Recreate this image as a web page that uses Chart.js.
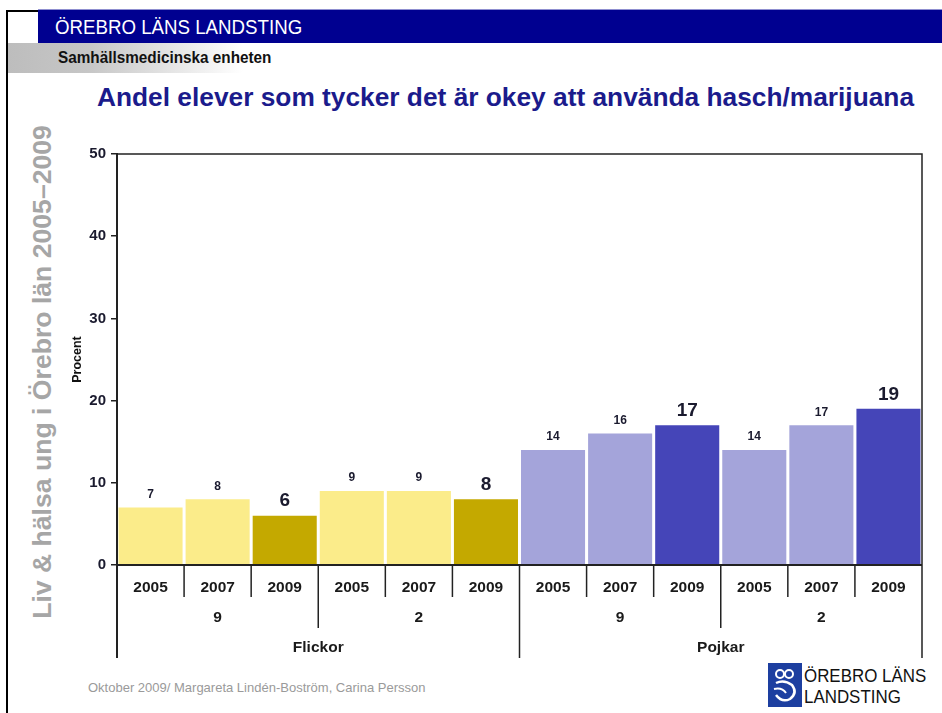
<!DOCTYPE html>
<html>
<head>
<meta charset="utf-8">
<script src="https://cdn.jsdelivr.net/npm/chart.js@4.4.0/dist/chart.umd.min.js"></script>
<style>
	html, body { margin: 0; padding: 0; background: #ffffff; }
	#page { position: relative; width: 942px; height: 713px; overflow: hidden; font-family: "Liberation Sans", Arial, sans-serif; }
	#frame-top { position: absolute; left: 6px; top: 10px; width: 40px; height: 2px; background: #000; }
	#frame-left { position: absolute; left: 6px; top: 10px; width: 2px; height: 703px; background: #000; }
	#topbar { position: absolute; left: 38px; top: 9px; width: 904px; height: 33px; background: #000090; border-top: 1px solid #8f8fd0; }
	#topbar span { position: absolute; left: 17px; top: 5px; color: #fff; font-size: 21px; transform: scaleX(0.89); transform-origin: left center; white-space: nowrap; }
	#subbar { position: absolute; left: 8px; top: 43px; width: 400px; height: 30px; background: linear-gradient(to right, #bdbdbd 0px, #c6c6c6 80px, #ffffff 235px); }
	#subbar span { position: absolute; left: 50px; top: 5px; color: #111; font-weight: bold; font-size: 17px; transform: scaleX(0.9); transform-origin: left center; white-space: nowrap; }
	#title { position: absolute; left: 97px; top: 82px; color: #1b1b8c; font-weight: bold; font-size: 26.3px; white-space: nowrap; }
	#side { position: absolute; left: 42px; top: 372px; transform: translate(-50%, -50%) rotate(-90deg); color: #a6a6a6; font-weight: bold; font-size: 26.6px; white-space: nowrap; }
	#footer { position: absolute; left: 88px; top: 680px; color: #9a9a9a; font-size: 13px; white-space: nowrap; }
	#logo { position: absolute; left: 768px; top: 663px; width: 34px; height: 44px; }
	#logotext { position: absolute; left: 804px; top: 665px; color: #111; font-size: 19px; line-height: 21px; transform: scaleX(0.89); transform-origin: left top; white-space: nowrap; }
	#chart { position: absolute; left: 0; top: 0; }
</style>
</head>
<body>
<div id="page">
	<div id="frame-top"></div>
	<div id="frame-left"></div>
	<div id="topbar"><span>ÖREBRO LÄNS LANDSTING</span></div>
	<div id="subbar"><span>Samhällsmedicinska enheten</span></div>
	<div id="title">Andel elever som tycker det är okey att använda hasch/marijuana</div>
	<div id="side">Liv &amp; hälsa ung i Örebro län 2005–2009</div>
	<div id="footer">Oktober 2009/ Margareta Lindén-Boström, Carina Persson</div>
	<svg id="logo" viewBox="0 0 34 44">
		<rect x="0" y="0" width="34" height="44" fill="#1d3fa0"/>
		<circle cx="12" cy="11" r="4" fill="none" stroke="#fff" stroke-width="2"/>
		<circle cx="21" cy="11" r="4" fill="none" stroke="#fff" stroke-width="2"/>
		<path d="M8 20 Q16 16 24 22 Q30 30 22 36 Q14 40 8 32" fill="none" stroke="#fff" stroke-width="2.5"/>
		<path d="M6 26 Q14 24 18 30" fill="none" stroke="#fff" stroke-width="2"/>
	</svg>
	<div id="logotext">ÖREBRO LÄNS<br>LANDSTING</div>
	<canvas id="chart" width="942" height="713"></canvas>
</div>
<script>
/* data */

var years = ['2005', '2007', '2009', '2005', '2007', '2009', '2005', '2007', '2009', '2005', '2007', '2009'];
var ageGroups = ['9', '2', '9', '2'];
var genders = ['Flickor', 'Pojkar'];
var values = [7, 8, 6, 9, 9, 8, 14, 16, 17, 14, 17, 19];
var yTicks = [0, 10, 20, 30, 40, 50];

/* colors */

var getColor = function(index) {
	var girl = index < 6;
	var latest = years[index] == '2009';
	if (girl) {
		return latest ? '#c4a900' : '#fbec8a';
	} else {
		return latest ? '#4545b8' : '#a4a4da';
	}
};

var barColors = [];
for (var i = 0; i < values.length; i++) {
	barColors.push(getColor(i));
}

/* plugin: frame, labels, category rows */

var lineColor = '#222222';
var fontFamily = '"Liberation Sans", Arial, sans-serif';

var categoryPlugin = {
	id: 'categories',
	afterDatasetsDraw: function(chart) {
		var ctx = chart.ctx;
		var area = chart.chartArea;
		var x = chart.scales.x;
		var meta = chart.getDatasetMeta(0);
		var bottom = area.bottom;

		ctx.save();

		// value labels
		ctx.fillStyle = '#1a1a2e';
		ctx.textAlign = 'center';
		ctx.textBaseline = 'bottom';
		for (var i = 0; i < meta.data.length; i++) {
			var bar = meta.data[i];
			if (years[i] == '2009') {
				ctx.font = 'bold 19px ' + fontFamily;
				ctx.fillText(values[i], bar.x, bar.y - 5);
			} else {
				ctx.font = 'bold 12px ' + fontFamily;
				ctx.fillText(values[i], bar.x, bar.y - 7);
			}
		}

		// frame: top and right
		ctx.strokeStyle = lineColor;
		ctx.lineWidth = 1.5;
		ctx.beginPath();
		ctx.moveTo(area.left, area.top);
		ctx.lineTo(area.right, area.top);
		ctx.lineTo(area.right, bottom + 93);
		ctx.stroke();

		// baseline and left extension
		ctx.lineWidth = 2;
		ctx.beginPath();
		ctx.moveTo(area.left, bottom);
		ctx.lineTo(area.right, bottom);
		ctx.moveTo(area.left, bottom);
		ctx.lineTo(area.left, bottom + 93);
		ctx.stroke();

		// separators between categories
		ctx.lineWidth = 1.5;
		for (var i = 1; i < years.length; i++) {
			var sx = (x.getPixelForValue(i - 1) + x.getPixelForValue(i)) / 2;
			var depth = 32;
			if (i % 3 == 0) {
				depth = 63;
			}
			if (i % 6 == 0) {
				depth = 93;
			}
			ctx.beginPath();
			ctx.moveTo(sx, bottom);
			ctx.lineTo(sx, bottom + depth);
			ctx.stroke();
		}

		// category text rows
		ctx.fillStyle = '#1a1a1a';
		ctx.font = 'bold 15.5px ' + fontFamily;
		ctx.textBaseline = 'middle';
		for (var i = 0; i < years.length; i++) {
			ctx.fillText(years[i], x.getPixelForValue(i), bottom + 23);
		}
		for (var g = 0; g < ageGroups.length; g++) {
			var cx = (x.getPixelForValue(g * 3) + x.getPixelForValue(g * 3 + 2)) / 2;
			ctx.fillText(ageGroups[g], cx, bottom + 53);
		}
		for (var g = 0; g < genders.length; g++) {
			var cx = (x.getPixelForValue(g * 6) + x.getPixelForValue(g * 6 + 5)) / 2;
			ctx.fillText(genders[g], cx, bottom + 83);
		}

		ctx.restore();
	}
};

/* chart */

var context = document.getElementById('chart').getContext('2d');
var payload = {
	type: 'bar',
	data: {
		labels: years,
		datasets: [{ data: values, backgroundColor: barColors, borderWidth: 0, barPercentage: 0.955, categoryPercentage: 1 }]
	},
	options: {
		responsive: false,
		animation: false,
		layout: { padding: { left: 60, top: 154, right: 20, bottom: 148 } },
		plugins: { legend: { display: false }, tooltip: { enabled: false } },
		scales: {
			x: { display: false, offset: true },
			y: {
				min: 0, max: 50,
				afterBuildTicks: function(scale) {
					scale.ticks = yTicks.map(function(v) { return { value: v }; });
				},
				afterFit: function(scale) {
					scale.width = 57;
				},
				border: { display: true, color: lineColor, width: 2 },
				grid: { drawOnChartArea: false, drawTicks: true, tickLength: 6, color: lineColor, lineWidth: 1.5 },
				ticks: { color: '#1a1a2e', padding: 5, font: { family: fontFamily, size: 15, weight: 'bold' } },
				title: { display: true, text: 'Procent', color: '#111', padding: { top: 10, bottom: 0 }, font: { family: fontFamily, size: 12.5, weight: 'bold' } }
			}
		}
	},
	plugins: [categoryPlugin]
};

var chart = new Chart(context, payload);
</script>
</body>
</html>
